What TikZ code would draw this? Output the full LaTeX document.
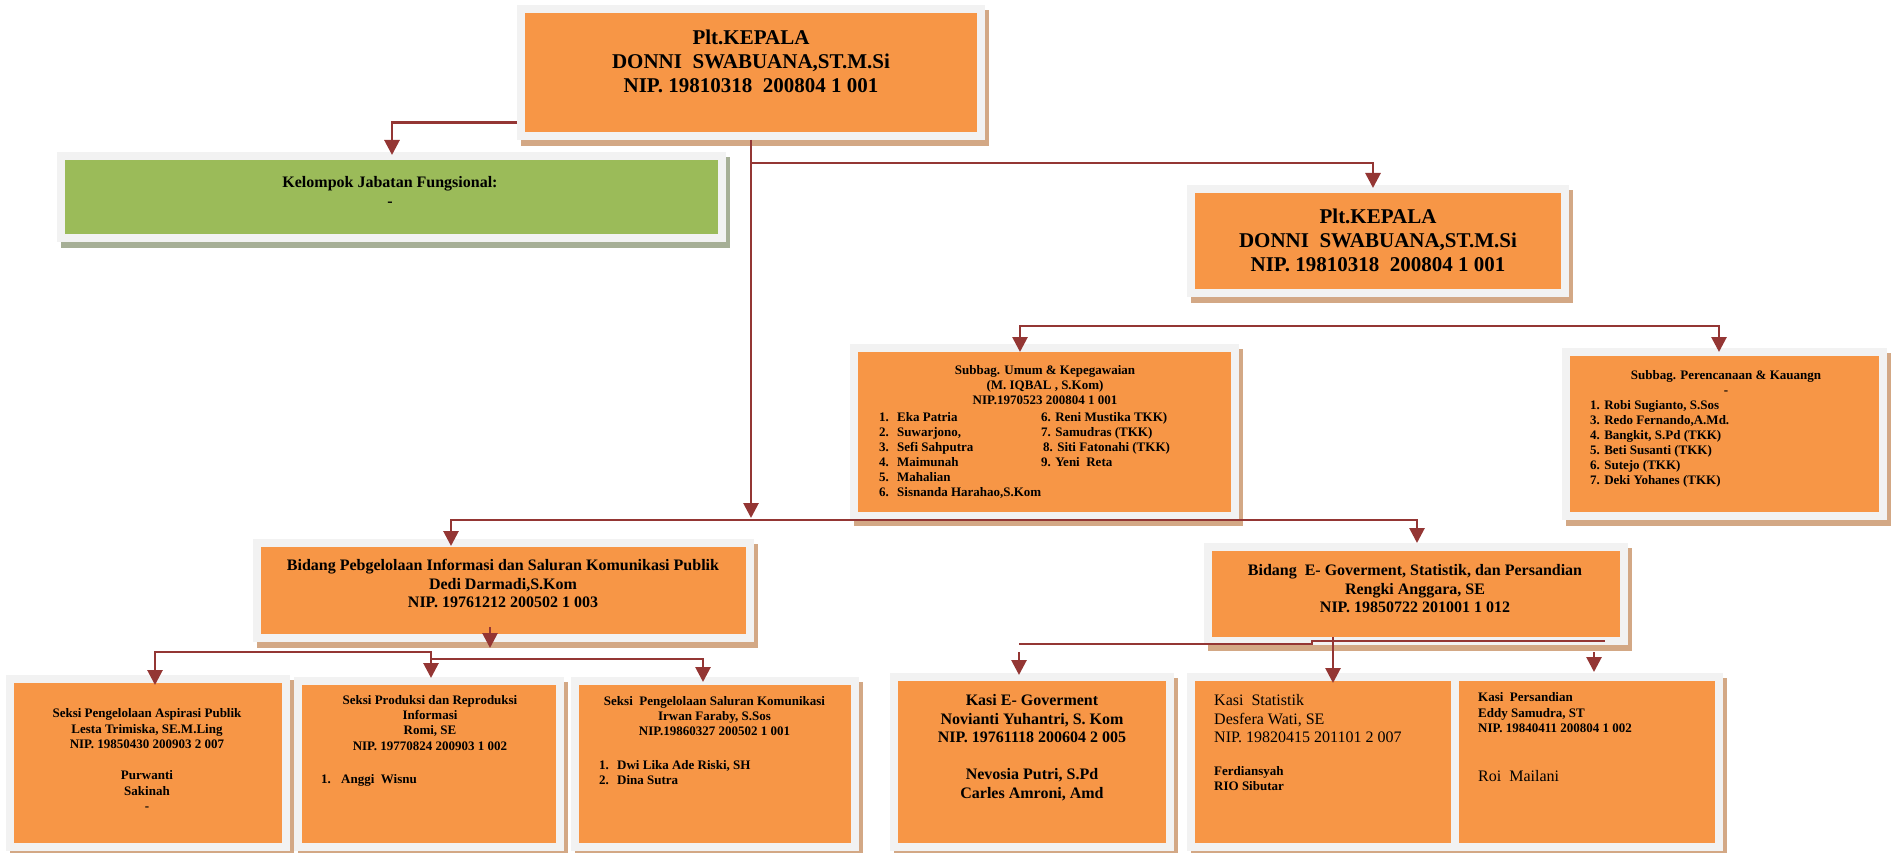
\documentclass[tikz,border=0pt]{standalone}
\usepackage{fontspec}
\setmainfont{Liberation Serif}
\usetikzlibrary{arrows.meta}
\definecolor{orangeF}{HTML}{F79646}
\definecolor{greenF}{HTML}{9BBB59}
\definecolor{frameC}{HTML}{F2F2F2}
\definecolor{shadC}{HTML}{D3A885}
\definecolor{shadG}{HTML}{A6AF96}
\definecolor{lineC}{HTML}{943634}
\newcommand\mybox[7]{%
  \fill[#7] (#2+4,#3+5) rectangle (#4+4,#5+6);
  \node[bx, fill=#6, minimum width={#4-#2-8}, minimum height={#5-#3-8}] (#1) at ({(#2+#4)/2},{(#3+#5)/2}) {};
}
\tikzset{
  bx/.style={draw=frameC, line width=8pt, inner sep=0pt, rectangle},
  cline/.style={draw=lineC, line width=2.8pt},
  arr/.style={cline, -{Triangle[width=15pt,length=15pt]}},
  arrtwo/.style={cline, {Triangle[width=15pt,length=15pt]}-{Triangle[width=15pt,length=15pt]}},
  txt/.style={inner sep=0pt, align=center, anchor=north},
  ltxt/.style={inner sep=0pt, align=left, anchor=north west},
  fbig/.style={font=\fontsize{21}{24}\selectfont\bfseries},
  fmid/.style={font=\fontsize{16}{18.5}\selectfont\bfseries},
  fmidr/.style={font=\fontsize{16}{18.5}\selectfont},
  fsml/.style={font=\fontsize{13}{15}\selectfont\bfseries},
}
\begin{document}
\begin{tikzpicture}[x=1pt,y=-1pt]
\useasboundingbox (0,0) rectangle (1891,853);
% boxes
\mybox{A}{517}{5}{985}{140}{orangeF}{shadC}
\mybox{B}{1187}{185}{1569}{297}{orangeF}{shadC}
\mybox{C}{57}{152}{726}{242}{greenF}{shadG}
\mybox{D}{850}{344}{1239}{520}{orangeF}{shadC}
\mybox{E}{1562}{348}{1887}{520}{orangeF}{shadC}
\mybox{F}{253}{539}{754}{642}{orangeF}{shadC}
\mybox{H}{1204}{543}{1628}{645}{orangeF}{shadC}
\mybox{G1}{6}{675}{290}{851}{orangeF}{shadC}
\mybox{G2}{294}{677}{564}{851}{orangeF}{shadC}
\mybox{G3}{571}{677}{859}{851}{orangeF}{shadC}
\mybox{K1}{890}{673}{1174}{851}{orangeF}{shadC}
\mybox{K2}{1187}{673}{1459}{851}{orangeF}{shadC}
\mybox{K3}{1451}{673}{1723}{851}{orangeF}{shadC}
% connectors
\coordinate (x392) at (392,0);
\draw[arr, shorten >=-3pt] ([yshift=-50pt]A.west) -| (x392 |- C.north);
\coordinate (hub) at (751,520);
\draw[arr, shorten >=2pt] (A.south) -- (hub);
\coordinate (j1) at (751,163);
\coordinate (xB) at (1373,0);
\draw[arr, shorten >=-3pt] (j1) -| (xB |- B.north);
\coordinate (xF) at (451,520);
\coordinate (xH) at (1417,520);
\draw[arrtwo, shorten <=-7pt] (xF |- F.north) -- (xF) -- (xH) -- (xH |- H.north);
\coordinate (sL) at (1020,326);
\coordinate (sR) at (1719,326);
\draw[arrtwo, shorten <=-8pt, shorten >=-4pt] (sL |- D.north) -- (sL) -- (sR) -- (sR |- E.north);
\draw[arr] ([xshift=-13.5pt,yshift=15pt]F.south) -- ([xshift=-13.5pt,yshift=-6pt]F.south);
\coordinate (g1) at (155,652);
\coordinate (g2) at (431,652);
\coordinate (g2b) at (431,659);
\coordinate (g3) at (703,659);
\draw[arrtwo, shorten <=-10pt, shorten >=-1pt] (g1 |- G1.north) -- (g1) -- (g2) -- (g2 |- G2.north);
\draw[arr, shorten >=-5pt] (g2b) -- (g3) -- (g3 |- G3.north);
\coordinate (h1) at (1019,644);
\coordinate (hj) at (1312,641);
\coordinate (h2) at (1605,641);
\draw[cline] (h1) -- (h1 -| hj) -- (hj) -- (h2);
\coordinate (hk) at (1333,637);
\draw[arr, shorten >=-10pt] (hk) -- (hk |- K2.north);
\coordinate (k1a) at (1019,652);
\draw[arr, shorten >=-2pt] (k1a) -- (k1a |- K1.north);
\coordinate (k3a) at (1594,652);
\draw[arr, shorten >=1pt] (k3a) -- (k3a |- K3.north);
% texts
\node[txt, fbig] (tA) at (751,30) {Plt.KEPALA\\DONNI\ \ SWABUANA,ST.M.Si\\NIP. 19810318\ \ 200804 1 001};
\node[txt, fbig] (tB) at (1378,209) {Plt.KEPALA\\DONNI\ \ SWABUANA,ST.M.Si\\NIP. 19810318\ \ 200804 1 001};
\node[txt, fmid] (tC) at (390,176.5) {Kelompok Jabatan Fungsional:\\-};
\node[txt, fsml] (tD) at (1045,365) {Subbag. Umum \& Kepegawaian\\(M. IQBAL , S.Kom)\\NIP.1970523 200804 1 001};
\node[ltxt, fsml] (lD) at (879,412.5) {%
\makebox[162pt][l]{\makebox[18pt][l]{1.}Eka Patria}6. Reni Mustika TKK)\\
\makebox[162pt][l]{\makebox[18pt][l]{2.}Suwarjono,}7. Samudras (TKK)\\
\makebox[164pt][l]{\makebox[18pt][l]{3.}Sefi Sahputra}8. Siti Fatonahi (TKK)\\
\makebox[162pt][l]{\makebox[18pt][l]{4.}Maimunah}9. Yeni\ \ Reta\\
\makebox[18pt][l]{5.}Mahalian\\
\makebox[18pt][l]{6.}Sisnanda Harahao,S.Kom};
\node[txt, fsml] (tE) at (1726,370.5) {Subbag. Perencanaan \& Kauangn\\-};
\node[ltxt, fsml] (lE) at (1590,400.5) {1. Robi Sugianto, S.Sos\\3. Redo Fernando,A.Md.\\4. Bangkit, S.Pd (TKK)\\5. Beti Susanti (TKK)\\6. Sutejo (TKK)\\7. Deki Yohanes (TKK)};
\node[txt, fmid] (tF) at (503,559.5) {Bidang Pebgelolaan Informasi dan Saluran Komunikasi Publik\\Dedi Darmadi,S.Kom\\NIP. 19761212 200502 1 003};
\node[txt, fmid] (tH) at (1415,564.5) {Bidang\ \ E- Goverment, Statistik, dan Persandian\\Rengki Anggara, SE\\NIP. 19850722 201001 1 012};
\node[txt, fsml, font=\fontsize{13}{15.5}\selectfont\bfseries] (tG1) at (147,708.5) {Seksi Pengelolaan Aspirasi Publik\\Lesta Trimiska, SE.M.Ling\\NIP. 19850430 200903 2 007\\[15.5pt]Purwanti\\Sakinah\\-};
\node[txt, fsml, font=\fontsize{13}{15.3}\selectfont\bfseries] (tG2) at (430,695) {Seksi Produksi dan Reproduksi\\Informasi\\Romi, SE\\NIP. 19770824 200903 1 002};
\node[ltxt, fsml] (lG2) at (321,774.5) {\makebox[20pt][l]{1.}Anggi\ \ Wisnu};
\node[txt, fsml, font=\fontsize{13}{15.3}\selectfont\bfseries] (tG3) at (714.5,696) {Seksi\ \ Pengelolaan Saluran Komunikasi\\Irwan Faraby, S.Sos\\NIP.19860327 200502 1 001};
\node[ltxt, fsml] (lG3) at (599,760.5) {\makebox[18pt][l]{1.}Dwi Lika Ade Riski, SH\\\makebox[18pt][l]{2.}Dina Sutra};
\node[txt, fmid] (tK1) at (1032,694.5) {Kasi E- Goverment\\Novianti Yuhantri, S. Kom\\NIP. 19761118 200604 2 005\\[18.5pt]Nevosia Putri, S.Pd\\Carles Amroni, Amd};
\node[ltxt, fmidr] (tK2) at (1214,694.5) {Kasi\ \ Statistik\\Desfera Wati, SE\\NIP. 19820415 201101 2 007};
\node[ltxt, fsml] (lK2) at (1214,766) {Ferdiansyah\\RIO Sibutar};
\node[ltxt, fsml, font=\fontsize{13}{15.5}\selectfont\bfseries] (tK3) at (1478,692.5) {Kasi\ \ Persandian\\Eddy Samudra, ST\\NIP. 19840411 200804 1 002};
\node[ltxt, fmidr] (lK3) at (1478,770.5) {Roi\ \ Mailani};
\end{tikzpicture}
\end{document}
